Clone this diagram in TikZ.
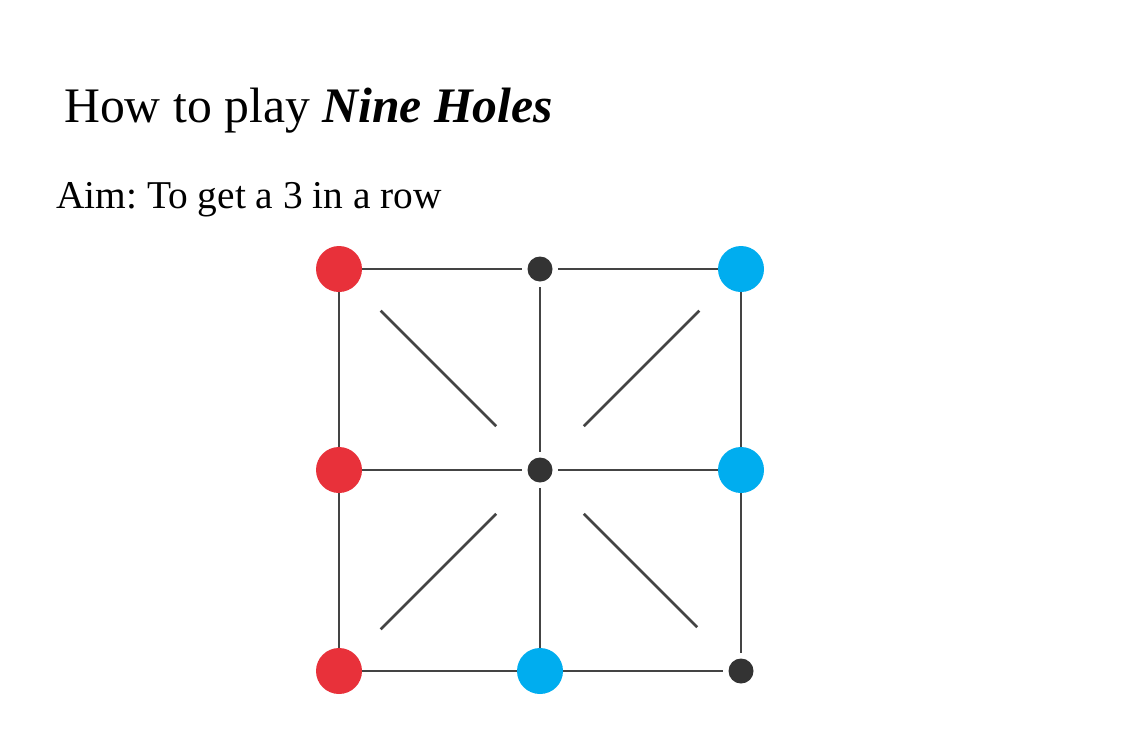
\documentclass[tikz,border=0pt]{standalone}
\usepackage{fontspec}
\setmainfont{Liberation Serif}
\frenchspacing
\begin{document}
\begin{tikzpicture}[x=1pt,y=-1pt,
  redpiece/.style={circle,fill=pieceRed,minimum size=46pt,inner sep=0pt,outer sep=0pt},
  bluepiece/.style={circle,fill=pieceBlue,minimum size=46pt,inner sep=0pt,outer sep=0pt},
  hole/.style={circle,fill=holeDark,minimum size=25pt,inner sep=0pt,outer sep=5.5pt},
  gridline/.style={draw=lineGray,line width=2.8pt},
  diag/.style={gridline,shorten <=44pt}]
\definecolor{pieceRed}{HTML}{E8313A}
\definecolor{pieceBlue}{HTML}{00ADEF}
\definecolor{holeDark}{HTML}{333333}
\definecolor{lineGray}{HTML}{444444}
\useasboundingbox (0,0) rectangle (1132,755);
\fill[white] (0,0) rectangle (1132,755);
\node[anchor=base west,inner sep=0pt] (title) at (64,122) {\fontsize{49.7}{60}\selectfont How to play \textbf{\textit{Nine Holes}}};
\node[anchor=base west,inner sep=0pt] (aim) at (56,208) {\fontsize{39.4}{48}\selectfont Aim: To get a 3 in a row};
% grid points
\node[redpiece] (tl) at (339,269) {};
\node[hole] (tm) at (540,269) {};
\node[bluepiece] (tr) at (741,269) {};
\node[redpiece] (ml) at (339,470) {};
\node[hole] (c) at (540,470) {};
\node[bluepiece] (mr) at (741,470) {};
\node[redpiece] (bl) at (339,671) {};
\node[bluepiece] (bm) at (540,671) {};
\node[hole] (br) at (741,671) {};
% straight lines
\draw[gridline] (tl) -- (tm);
\draw[gridline] (tm) -- (tr);
\draw[gridline] (ml) -- (c);
\draw[gridline] (c) -- (mr);
\draw[gridline] (bl) -- (bm);
\draw[gridline] (bm) -- (br);
\draw[gridline] (tl) -- (ml);
\draw[gridline] (ml) -- (bl);
\draw[gridline] (tm) -- (c);
\draw[gridline] (c) -- (bm);
\draw[gridline] (tr) -- (mr);
\draw[gridline] (mr) -- (br);
% diagonals
\draw[diag,shorten >=36pt] (c) -- (tl);
\draw[diag,shorten >=36pt] (c) -- (tr);
\draw[diag,shorten >=36pt] (c) -- (bl);
\draw[diag,shorten >=44pt] (c) -- (br);
\end{tikzpicture}
\end{document}
